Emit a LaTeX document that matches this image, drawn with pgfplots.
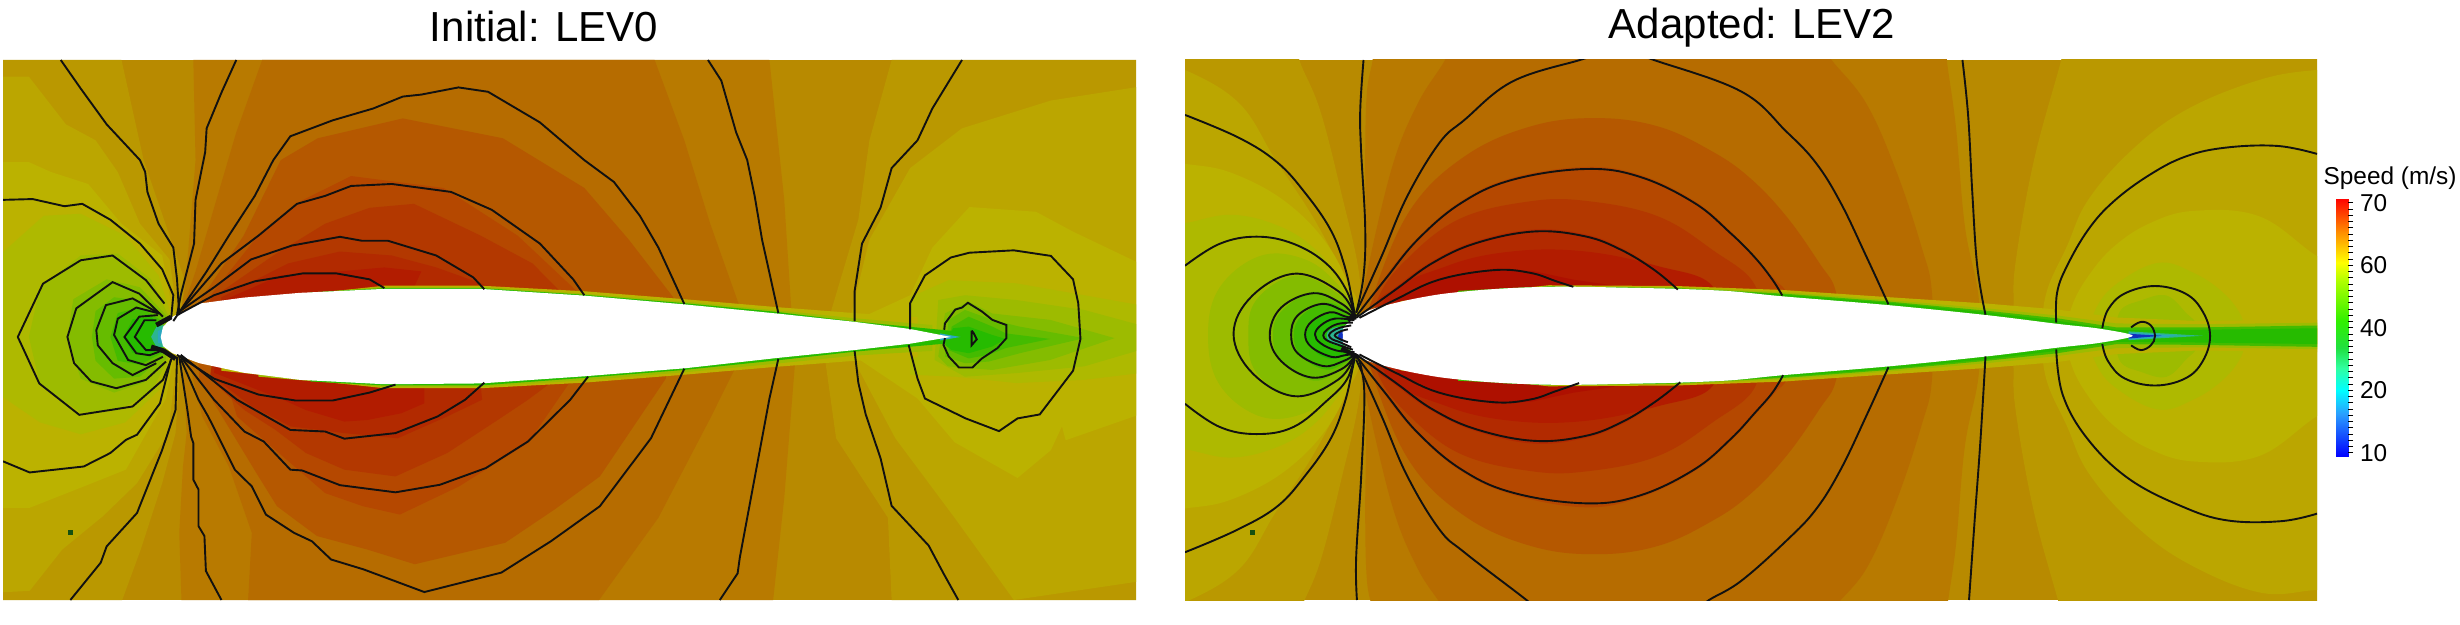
\documentclass[border=0pt]{standalone}
\usepackage{pgfplots}
\pgfplotsset{compat=1.18}
\usepackage{fontspec}
\setmainfont{Liberation Sans}

\definecolor{rA}{HTML}{AE1000}
\definecolor{rB}{HTML}{B21C00}
\definecolor{rC}{HTML}{B22A00}
\definecolor{rD}{HTML}{B33800}
\definecolor{rE}{HTML}{B54800}
\definecolor{rF}{HTML}{B55800}
\definecolor{rG}{HTML}{B66C00}
\definecolor{rH}{HTML}{B87A00}
\definecolor{rI}{HTML}{B88A00}
\definecolor{rJ}{HTML}{BA9800}
\definecolor{rK}{HTML}{BBA600}
\definecolor{yA}{HTML}{BBB200}
\definecolor{gA}{HTML}{AEB900}
\definecolor{gB}{HTML}{9DBB00}
\definecolor{gC}{HTML}{84BC00}
\definecolor{gD}{HTML}{66BC00}
\definecolor{gE}{HTML}{44BB00}
\definecolor{gF}{HTML}{26BB00}
\definecolor{teal2}{HTML}{2CB590}
\definecolor{cyan2}{HTML}{2AA8C0}
\definecolor{blue2}{HTML}{1030C0}
\definecolor{line}{HTML}{111111}
\definecolor{speck}{HTML}{155010}

\newcommand{\band}[2]{\addplot[draw=none,fill=#1] coordinates {#2} -- cycle;}
\newcommand{\sband}[2]{\addplot[draw=none,fill=#1,smooth cycle,tension=0.65] coordinates {#2};}
\newcommand{\oband}[2]{\addplot[draw=none,fill=#1,smooth,tension=0.65] coordinates {#2} -- cycle;}
\newcommand{\cont}[1]{\addplot[line,line width=0.95pt] coordinates {#1};}
\newcommand{\scont}[1]{\addplot[line,line width=0.95pt,smooth,tension=0.65] coordinates {#1};}

\pgfplotsset{panel/.style={
  scale only axis, anchor=south west, y dir=reverse,
  ticks=none, axis line style={draw=none},
  clip=true, axis on top=false,
  title style={font=\fontsize{21}{24}\selectfont, anchor=base},
}}

\begin{document}
\begin{tikzpicture}[x=1pt,y=1pt]
\useasboundingbox (0,0) rectangle (1230,312.5);

% left panel, coordinates are read off the zoomed view
\begin{axis}[panel, at={(1.5pt,12.5pt)}, width=566.5pt, height=270pt,
  xmin=5, xmax=1535, ymin=148, ymax=1507,
  title={Initial: LEV0}, title style={at={(0.4775,1)}, yshift=3pt}]
\band{rI}{(5,148)(1535,148)(1535,1507)(5,1507)}
\band{rJ}{(0,148)(165,148)(195,400)(250,700)(245,790)(245,900)(238,1087)(220,1213)(191,1380)(166,1507)(0,1507)}
\band{rK}{(0,190)(40,190)(90,310)(130,350)(160,430)(190,560)(230,650)(240,790)(240,900)(228,1087)(186,1213)(140,1296)(85,1380)(41,1484)(0,1488)}
\band{yA}{(0,405)(40,405)(70,430)(120,460)(165,560)(220,640)(235,790)(235,900)(225,1000)(171,1179)(109,1225)(41,1275)(0,1275)}
\band{gA}{(0,640)(30,590)(60,540)(110,535)(170,590)(215,690)(232,790)(232,900)(215,980)(170,1060)(110,1090)(55,1060)(0,990)}
\band{gB}{(40,845)(55,720)(110,640)(160,635)(205,700)(228,790)(228,900)(205,985)(160,1030)(110,1035)(55,965)}
\band{gC}{(92,845)(100,750)(145,700)(190,720)(225,790)(225,900)(195,960)(155,985)(110,950)}
\band{gD}{(125,845)(130,780)(155,745)(195,755)(222,800)(222,890)(190,945)(155,950)(130,905)}
\band{gE}{(150,845)(160,785)(190,770)(220,805)(220,885)(190,915)(160,905)}
\band{gF}{(168,845)(180,800)(205,795)(218,815)(218,875)(205,890)(180,885)}
\band{teal2}{(205,845)(212,820)(222,815)(222,870)(212,870)}
\band{cyan2}{(214,830)(222,825)(222,862)(214,860)}
% fast side
\band{rH}{(262,148)(265,400)(252,700)(245,790)(248,900)(253,1087)(248,1171)(243,1338)(246,1507)(1045,1507)(1060,1250)(1075,900)(1070,790)(1060,500)(1040,148)}
\band{rG}{(355,148)(320,330)(290,520)(265,680)(245,790)(255,900)(274,1045)(310,1171)(341,1338)(336,1507)(810,1507)(890,1300)(960,1050)(1000,900)(1000,770)(960,560)(925,350)(885,148)}
\band{rF}{(265,770)(330,590)(380,400)(430,345)(545,295)(680,345)(790,470)(850,600)(910,745)(900,950)(811,1196)(750,1279)(683,1363)(561,1417)(497,1380)(429,1346)(375,1271)(347,1187)(270,950)}
\band{rE}{(275,765)(345,600)(405,505)(475,440)(600,470)(700,590)(780,730)(770,960)(714,1112)(621,1221)(541,1292)(491,1271)(440,1238)(393,1162)(357,1104)(321,1045)}
\band{rD}{(285,750)(370,640)(440,560)(500,520)(560,510)(650,590)(720,660)(760,735)(745,960)(714,1003)(673,1054)(605,1137)(535,1196)(466,1179)(414,1137)(373,1079)(331,1029)(290,960)}
\band{rC}{(300,745)(390,660)(460,630)(530,640)(590,670)(680,730)(650,965)(652,1003)(605,1045)(538,1100)(466,1087)(393,1070)(341,1020)(285,940)}
\band{rB}{(300,755)(380,690)(460,680)(520,670)(570,680)(560,720)(574,965)(574,1012)(543,1037)(497,1054)(466,1058)(414,1029)(383,1003)(290,935)}
% slow side behind the trailing edge
\band{rJ}{(1205,148)(1175,350)(1160,550)(1120,800)(1115,900)(1130,1100)(1200,1300)(1205,1507)(1540,1507)(1540,148)}
\band{rK}{(1540,215)(1420,250)(1300,320)(1230,420)(1175,600)(1150,790)(1150,890)(1210,1100)(1290,1300)(1370,1507)(1540,1460)}
\band{yA}{(1540,660)(1450,580)(1400,530)(1310,518)(1260,620)(1230,740)(1160,800)(1160,900)(1240,1000)(1290,1110)(1375,1200)(1420,1130)(1435,1070)(1440,1105)(1540,1040)}
\band{gA}{(1230,745)(1282,702)(1373,710)(1465,740)(1540,765)(1540,936)(1465,953)(1373,961)(1291,945)(1230,940)}
\band{gB}{(1268,752)(1304,740)(1373,752)(1465,777)(1540,815)(1540,878)(1465,919)(1373,936)(1304,945)(1263,903)}
\band{gC}{(1277,786)(1309,756)(1341,786)(1419,802)(1506,848)(1419,903)(1341,928)(1281,919)(1268,894)}
\band{gD}{(1282,802)(1304,777)(1341,802)(1378,819)(1465,848)(1378,886)(1336,907)(1304,911)(1277,894)}
\band{gE}{(1286,819)(1309,794)(1341,819)(1359,836)(1419,850)(1359,873)(1336,890)(1309,899)(1282,878)}
\band{gF}{(1288,823)(1309,819)(1341,840)(1359,850)(1341,869)(1309,886)(1286,878)(1277,865)}
% boundary layer
\band{yA}{(300,760)(520,716)(650,716)(790,730)(925,750)(1050,770)(1155,785)(1240,795)(1240,895)(1155,905)(1050,920)(925,940)(790,960)(650,974)(520,974)(300,930)}
\band{gB}{(350,745)(520,719)(650,719)(790,736)(925,756)(1050,778)(1155,798)(1260,815)(1260,880)(1155,892)(1050,912)(925,934)(790,954)(650,971)(520,971)(350,945)}
\band{gF}{(420,733)(520,722)(650,722)(790,739)(925,760)(1050,782)(1155,806)(1288,830)(1288,860)(1155,882)(1050,904)(925,928)(790,948)(650,967)(520,967)(420,957)}
\band{cyan2}{(1270,836)(1298,845)(1270,854)}
% aerofoil
\band{white}{(218,845)(221,820)(234,794)(270,761)(330,746)(406,734)(520,724)(650,724)(790,741)(925,763)(1050,786)(1155,807)(1230,825)(1285,845)(1230,862)(1155,878)(1050,898)(925,924)(790,944)(650,962)(520,964)(406,953)(330,935)(270,911)(234,886)(221,868)}
\addplot[only marks,mark=square*,mark size=1pt,color=speck] coordinates {(96,1337)};
% contour lines
\cont{(5,500)(45,498)(88,516)(112,510)(150,550)(190,610)(220,675)(235,740)(232,800)}
\cont{(83,148)(110,220)(145,310)(190,400)(197,430)(200,480)(215,560)(235,620)(240,700)(243,790)}
\cont{(320,148)(300,230)(280,320)(278,380)(265,500)(263,610)(245,740)(240,790)}
\cont{(235,805)(280,680)(310,590)(345,490)(370,400)(393,340)(450,300)(505,270)(545,240)(570,235)(620,217)(660,228)(730,305)(790,400)(830,455)(865,540)(890,620)(925,762)}
\cont{(240,790)(300,660)(350,590)(402,510)(440,490)(475,465)(530,460)(610,480)(665,525)(730,610)(775,700)(790,740)}
\cont{(240,785)(290,720)(340,650)(395,615)(460,593)(490,603)(525,603)(590,640)(640,695)(655,725)}
\cont{(240,790)(290,740)(345,705)(410,685)(455,685)(500,700)(520,722)}
\cont{(957,148)(975,200)(995,330)(1010,400)(1020,490)(1030,600)(1052,785)}
\cont{(1300,148)(1260,270)(1240,350)(1205,420)(1190,520)(1165,610)(1155,730)(1155,805)}
\cont{(1230,826)(1230,760)(1250,690)(1285,645)(1310,633)(1370,627)(1420,641)(1450,700)(1457,760)(1460,850)(1450,930)(1405,1040)(1375,1050)(1350,1082)(1305,1050)(1250,1000)(1240,950)(1228,865)}
\cont{(1276,827)(1277,811)(1291,776)(1300,771)(1308,759)(1327,781)(1341,802)(1360,815)(1360,848)(1348,873)(1327,899)(1314,922)(1296,922)(1282,894)(1275,865)(1277,848)}
\cont{(1313,829)(1316,836)(1320,851)(1313,866)(1313,829)}
\cont{(1052,900)(1040,1000)(1020,1200)(1000,1400)(997,1440)(973,1507)}
\cont{(1155,880)(1160,960)(1170,1040)(1190,1150)(1205,1270)(1255,1370)(1275,1440)(1295,1507)}
\cont{(925,925)(880,1100)(811,1271)(745,1359)(678,1438)(574,1487)(492,1430)(448,1405)(422,1359)(398,1338)(360,1292)(341,1221)(318,1179)(298,1104)(282,1045)(269,1003)(245,900)}
\cont{(795,945)(771,1003)(714,1108)(657,1175)(595,1217)(535,1236)(460,1218)(409,1181)(393,1179)(357,1108)(331,1083)(290,1003)(245,895)}
\cont{(655,960)(629,1003)(592,1045)(535,1087)(466,1101)(440,1083)(393,1079)(321,1003)(245,890)}
\cont{(535,965)(500,985)(450,1005)(400,1005)(350,990)(290,950)(240,890)}
\cont{(5,1158)(41,1186)(114,1171)(150,1137)(171,1104)(186,1091)(217,1012)(232,900)}
\cont{(96,1507)(137,1413)(145,1372)(186,1288)(220,1129)(238,1029)(240,895)}
\cont{(300,1507)(279,1434)(277,1346)(269,1321)(269,1229)(262,1204)(262,1112)(259,1096)(254,1029)(243,895)}
\cont{(223,761)(198,702)(153,640)(110,652)(59,711)(25,845)(54,962)(108,1041)(180,1020)(221,953)(232,903)}
\cont{(221,794)(189,736)(153,707)(104,773)(92,845)(101,911)(124,957)(158,974)(198,953)(225,907)}
\cont{(216,786)(180,748)(144,765)(131,828)(133,866)(153,911)(180,941)(212,911)}
\cont{(216,786)(185,771)(160,799)(155,840)(174,903)(198,916)(221,895)}
\cont{(214,790)(189,794)(169,845)(185,886)(203,891)(216,882)}
\cont{(212,803)(196,803)(183,845)(198,878)(212,878)}
\addplot[line,line width=2.4pt] coordinates {(212,815)(232,795)};
\addplot[line,line width=2.4pt] coordinates {(205,870)(222,880)(238,900)};
\end{axis}

% right panel
\begin{axis}[panel, at={(592.5pt,12.5pt)}, width=566pt, height=270pt,
  xmin=18, xmax=1394, ymin=148, ymax=1505,
  title={Adapted: LEV2}, title style={at={(0.501,1)}, yshift=4.5pt}]
\band{rI}{(18,148)(1394,148)(1394,1505)(18,1505)}
\oband{rJ}{(-20,60)(100,60)(157,100)(157,148)(182,273)(208,482)(230,691)(230,842)(230,993)(208,1202)(182,1411)(157,1536)(157,1570)(100,1600)(-20,1600)}
\oband{rK}{(-30,150)(18,173)(84,257)(128,399)(173,541)(212,691)(230,767)(232,842)(230,917)(212,993)(173,1143)(128,1285)(84,1427)(18,1511)(-30,1540)}
\oband{yA}{(-30,400)(18,409)(75,432)(142,507)(195,624)(226,767)(230,842)(226,917)(195,1060)(142,1177)(75,1252)(18,1275)(-30,1284)}
\oband{gA}{(-30,570)(18,558)(75,537)(133,566)(177,625)(212,716)(226,775)(228,842)(226,909)(212,968)(177,1059)(133,1118)(75,1147)(18,1126)(-30,1114)}
\sband{gB}{(46,840)(60,720)(110,640)(165,650)(205,715)(224,780)(226,842)(224,904)(205,969)(165,1034)(110,1044)(60,964)}
\sband{gC}{(95,840)(105,750)(152,690)(200,730)(224,790)(224,894)(200,954)(152,994)(105,934)}
\sband{gD}{(125,840)(135,780)(175,730)(210,765)(224,800)(224,884)(210,919)(175,954)(135,904)}
\sband{gE}{(150,840)(160,790)(190,758)(215,780)(224,805)(224,879)(215,904)(190,926)(160,894)}
\sband{gF}{(165,840)(175,805)(195,785)(215,795)(224,810)(224,874)(215,889)(195,899)(175,879)}
\sband{teal2}{(190,840)(195,825)(207,818)(216,825)(216,858)(207,866)(195,859)}
\sband{blue2}{(204,842)(208,830)(214,830)(214,854)(208,854)}
% fast side
\oband{rH}{(246,1600)(246,1536)(239,1453)(237,1285)(238,1034)(232,904)(232,780)(238,650)(237,399)(239,231)(246,148)(246,100)(300,70)(450,70)(600,70)(750,70)(900,70)(944,100)(944,148)(955,315)(966,566)(983,750)(983,934)(966,1118)(955,1369)(944,1536)(946,1600)}
\oband{rG}{(334,1600)(334,1536)(301,1427)(270,1269)(239,1001)(232,914)(232,770)(239,683)(270,415)(301,257)(334,148)(340,100)(380,70)(500,70)(620,70)(740,70)(790,100)(804,148)(846,257)(882,424)(913,616)(926,735)(926,949)(913,1068)(882,1260)(846,1427)(804,1536)(804,1600)}
\sband{rF}{(248,733)(292,524)(358,390)(438,315)(517,294)(593,315)(659,378)(705,445)(749,541)(789,658)(809,729)(812,842)(809,955)(789,1026)(749,1143)(705,1239)(659,1306)(593,1369)(517,1390)(438,1369)(358,1294)(292,1160)(248,951)(240,842)}
\sband{rE}{(240,780)(261,695)(301,594)(354,502)(416,444)(504,417)(570,436)(637,502)(681,578)(711,645)(735,700)(750,740)(752,842)(750,944)(735,984)(711,1039)(681,1106)(637,1182)(570,1248)(504,1272)(416,1240)(354,1182)(301,1090)(261,989)(240,904)(236,842)}
\sband{rD}{(252,750)(283,658)(350,549)(438,503)(509,503)(593,541)(659,625)(711,715)(712,842)(711,969)(659,1059)(593,1143)(509,1181)(438,1181)(350,1135)(283,1026)(252,934)(245,842)}
\sband{rC}{(250,770)(274,720)(319,653)(372,603)(442,574)(504,586)(548,620)(588,670)(625,722)(630,842)(625,960)(588,1014)(548,1064)(504,1098)(442,1112)(372,1081)(319,1031)(274,964)(250,914)}
\sband{rB}{(261,750)(336,666)(416,629)(504,629)(593,666)(659,716)(665,842)(659,968)(593,1018)(504,1055)(416,1055)(336,1018)(261,934)}
\band{rA}{(275,750)(327,700)(394,672)(440,678)(490,700)(540,715)(540,969)(490,984)(440,1006)(394,1012)(327,984)(275,934)}
% slow side behind the trailing edge
\oband{rJ}{(1600,100)(1300,100)(1150,100)(1083,120)(1083,148)(1050,399)(1028,650)(1025,767)(1025,917)(1028,1034)(1050,1285)(1083,1536)(1083,1570)(1150,1590)(1300,1590)(1600,1590)}
\oband{rK}{(1450,173)(1394,173)(1324,198)(1235,273)(1169,374)(1116,499)(1090,616)(1065,733)(1060,842)(1065,951)(1090,1068)(1116,1185)(1169,1310)(1235,1411)(1324,1486)(1394,1480)(1450,1480)}
\oband{yA}{(1450,700)(1394,641)(1324,541)(1245,527)(1191,558)(1147,617)(1116,691)(1096,767)(1090,842)(1096,917)(1116,993)(1147,1067)(1191,1126)(1245,1157)(1324,1143)(1394,1043)(1450,984)}
\sband{gA}{(1123,783)(1147,716)(1200,658)(1244,683)(1280,733)(1302,792)(1305,842)(1302,892)(1280,951)(1244,1001)(1200,1026)(1147,968)(1123,901)(1118,842)}
\sband{gB}{(1155,778)(1179,753)(1211,740)(1236,786)(1248,811)(1250,842)(1248,873)(1236,898)(1211,944)(1179,931)(1155,906)(1150,842)}
% boundary layer and wake
\band{yA}{(280,754)(460,714)(615,716)(745,726)(873,744)(992,760)(1078,775)(1150,795)(1250,804)(1400,800)(1400,882)(1250,878)(1150,887)(1078,907)(992,922)(873,938)(745,956)(615,966)(460,968)(280,928)}
\band{gB}{(300,750)(460,716)(615,719)(745,731)(873,751)(992,772)(1078,790)(1150,810)(1250,812)(1400,808)(1400,875)(1250,870)(1150,872)(1078,892)(992,910)(873,931)(745,951)(615,963)(460,966)(300,932)}
\band{gE}{(350,728)(460,717)(615,721)(745,735)(873,755)(992,778)(1078,797)(1150,820)(1250,820)(1400,815)(1400,869)(1250,864)(1150,862)(1078,885)(992,904)(873,927)(745,947)(615,961)(460,965)(350,954)}
\band{gF}{(400,722)(460,718)(615,722)(745,738)(873,758)(992,782)(1078,803)(1150,826)(1250,826)(1400,822)(1400,862)(1250,858)(1150,856)(1078,879)(992,900)(873,924)(745,944)(615,960)(460,964)(400,960)}
\band{teal2}{(1165,830)(1255,841)(1165,852)}
\band{cyan2}{(1165,833)(1225,841)(1165,851)}
\band{blue2}{(1165,836)(1205,841)(1165,848)}
% aerofoil
\addplot[draw=none,fill=white,smooth cycle] coordinates {(210,842)(212,817)(239,779)(283,754)(327,737)(372,727)(416,721)(460,718)(504,718)(548,720)(615,723)(681,729)(745,742)(873,764)(992,789)(1078,811)(1129,823)(1170,841)(1129,859)(1078,871)(992,893)(873,918)(745,940)(681,953)(615,959)(548,962)(504,964)(460,964)(416,961)(372,955)(327,945)(283,928)(239,903)(212,865)};
\addplot[only marks,mark=square*,mark size=1pt,color=speck] coordinates {(100,1335)};
% contour lines
\scont{(18,665)(60,610)(105,592)(150,610)(190,660)(215,730)(225,800)}
\scont{(18,1012)(60,1070)(105,1088)(150,1070)(190,1005)(215,950)(225,885)}
\scont{(18,286)(84,344)(130,405)(164,482)(195,575)(212,666)(222,760)(225,800)}
\scont{(18,1385)(80,1330)(130,1270)(165,1190)(195,1100)(212,1010)(222,920)(225,885)}
\scont{(235,148)(231,273)(232,374)(237,566)(235,691)(226,783)}
\scont{(227,1505)(226,1400)(232,1200)(236,1000)(232,920)(226,890)}
\scont{(226,783)(257,641)(288,491)(327,357)(358,298)(416,202)(498,148)(520,135)}
\scont{(570,135)(588,148)(694,227)(749,328)(785,407)(815,507)(846,641)(873,762)}
\scont{(226,901)(257,1043)(288,1193)(327,1327)(358,1386)(433,1505)(445,1530)}
\scont{(640,1530)(655,1505)(694,1457)(749,1356)(785,1277)(815,1177)(846,1043)(873,920)}
\scont{(226,792)(261,700)(301,599)(354,507)(416,449)(504,422)(570,441)(637,507)(681,583)(711,645)(732,700)(744,740)}
\scont{(226,892)(261,984)(301,1085)(354,1177)(416,1235)(504,1262)(570,1243)(637,1177)(681,1101)(711,1034)(732,984)(745,940)}
\scont{(226,796)(274,725)(319,658)(372,608)(442,579)(504,591)(548,625)(588,675)(617,725)}
\scont{(226,888)(274,959)(319,1026)(372,1076)(442,1105)(504,1093)(548,1059)(588,1009)(620,958)}
\scont{(230,796)(274,750)(327,700)(394,676)(438,683)(469,704)(490,718)}
\scont{(230,888)(274,934)(327,984)(394,1008)(438,1001)(469,980)(497,960)}
\scont{(963,148)(970,290)(975,482)(981,666)(991,788)}
\scont{(991,893)(985,1100)(978,1300)(971,1505)}
\scont{(1394,384)(1346,364)(1284,368)(1235,390)(1191,436)(1147,503)(1116,574)(1090,666)(1078,733)(1077,808)}
\scont{(1077,875)(1085,990)(1115,1100)(1165,1200)(1230,1270)(1285,1305)(1350,1307)(1394,1288)}
\scont{(1133,822)(1140,775)(1160,735)(1197,716)(1234,735)(1255,780)(1264,842)(1255,905)(1234,948)(1197,966)(1160,948)(1140,905)(1133,862)}
\scont{(1168,820)(1180,806)(1192,815)(1197,842)(1192,865)(1180,877)(1168,865)}
% rings round the nose
\scont{(224,790)(205,730)(152,685)(100,740)(77,836)(100,935)(152,993)(205,950)(224,890)}
\scont{(224,792)(208,760)(174,734)(135,770)(121,840)(135,905)(172,946)(208,925)(224,892)}
\scont{(224,795)(210,778)(184,761)(155,790)(147,838)(155,885)(186,917)(210,905)(224,889)}
\scont{(224,798)(212,792)(194,782)(172,805)(164,838)(172,870)(196,894)(212,890)(224,886)}
\scont{(224,802)(200,798)(183,815)(176,838)(183,860)(202,878)(224,882)}
\scont{(222,808)(204,811)(191,825)(186,840)(191,853)(206,865)(222,876)}
\scont{(220,815)(206,821)(197,830)(193,840)(197,850)(206,857)(220,870)}
\scont{(216,825)(208,829)(200,840)(208,851)(216,857)}
\addplot[line,line width=2.2pt] coordinates {(216,803)(225,786)};
\addplot[line,line width=2.2pt] coordinates {(208,873)(229,895)};
\end{axis}

% colour bar, y is the tick position, the scale is not linear in speed
\begin{axis}[scale only axis, anchor=south west, at={(1168pt,84pt)}, width=6pt, height=129pt,
  xmin=0, xmax=1, ymin=-0.064, ymax=4.064,
  axis line style={draw=none}, axis on top,
  xtick=\empty, ytick={0,1,2,3,4}, yticklabels={10,20,40,60,70},
  minor y tick num=9, ytick pos=right, yticklabel pos=right, tick align=outside,
  major tick length=2.5pt, minor tick length=2.5pt,
  tick style={black,line width=0.5pt},
  ticklabel style={font=\fontsize{12.2}{13}\selectfont},
  title={Speed (m/s)},
  title style={font=\fontsize{12.2}{13}\selectfont, at={(0.5,1)}, anchor=base, xshift=24pt, yshift=1pt},
  point meta min=-0.064, point meta max=4.08,
  colormap={speedbar}{
    rgb255(0pt)=(0,0,255); rgb255(69pt)=(42,160,255); rgb255(106pt)=(0,255,255);
    rgb255(142pt)=(48,255,160); rgb255(174pt)=(32,224,64); rgb255(217pt)=(48,240,0);
    rgb255(281pt)=(176,255,0); rgb255(310pt)=(255,255,0); rgb255(358pt)=(255,144,0);
    rgb255(414pt)=(255,0,0)}]
\addplot[surf, shader=interp, mesh/cols=2, point meta=y] coordinates {
  (0,-0.064) (1,-0.064)
  (0,1) (1,1)
  (0,2) (1,2)
  (0,3) (1,3)
  (0,4.064) (1,4.064)
};
\end{axis}
\end{tikzpicture}
\end{document}
